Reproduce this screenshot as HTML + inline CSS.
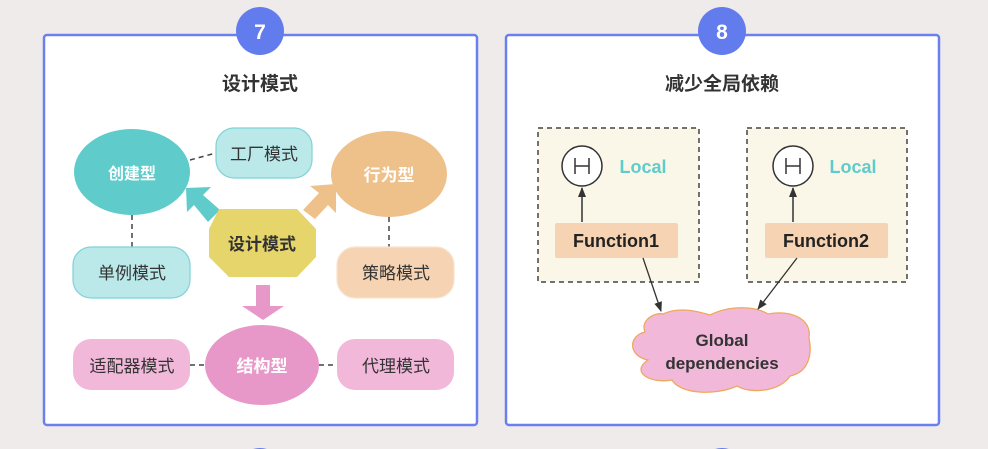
<!DOCTYPE html>
<html><head><meta charset="utf-8"><style>
html,body{margin:0;padding:0;width:988px;height:449px;overflow:hidden;background:#efebea;}
svg{display:block;font-family:"Liberation Sans","Noto Sans CJK SC",sans-serif;}
</style></head><body>
<svg width="988" height="449" viewBox="0 0 988 449">
<defs>
<marker id="ah" markerWidth="10" markerHeight="10" refX="9" refY="5" orient="auto" markerUnits="userSpaceOnUse"><path d="M0,1 L10,5 L0,9 z" fill="#333"/></marker>
</defs>
<rect x="0" y="0" width="988" height="449" fill="#efebea"/>
<!-- Left panel -->
<rect x="44" y="35" width="433" height="390" rx="3" fill="#fff" stroke="#6a7ff0" stroke-width="2.5"/>
<circle cx="260" cy="31" r="24" fill="#627ced"/>
<text x="260" y="39" text-anchor="middle" font-size="21" font-weight="bold" fill="#fff">7</text>
<text x="260" y="90" text-anchor="middle" font-size="19" font-weight="bold" fill="#333">设计模式</text>
<line x1="190" y1="160" x2="216" y2="153" stroke="#444" stroke-width="1.5" stroke-dasharray="5,4"/>
<line x1="132" y1="215" x2="132" y2="247" stroke="#444" stroke-width="1.5" stroke-dasharray="5,4"/>
<line x1="389" y1="217" x2="389" y2="247" stroke="#444" stroke-width="1.5" stroke-dasharray="5,4"/>
<line x1="190" y1="365" x2="205" y2="365" stroke="#444" stroke-width="1.5" stroke-dasharray="5,4"/>
<line x1="319" y1="365" x2="337" y2="365" stroke="#444" stroke-width="1.5" stroke-dasharray="5,4"/>
<ellipse cx="132" cy="172" rx="58" ry="43" fill="#60cbcb"/>
<text x="132" y="179" text-anchor="middle" font-size="16" font-weight="bold" fill="#fff">创建型</text>
<rect x="216" y="128" width="96" height="50" rx="18" fill="#bbe9e9" stroke="#7fd3d6" stroke-width="1.2"/>
<text x="264" y="160" text-anchor="middle" font-size="17" fill="#333">工厂模式</text>
<ellipse cx="389" cy="174" rx="58" ry="43" fill="#eec18b"/>
<text x="389" y="181" text-anchor="middle" font-size="17" font-weight="bold" fill="#fff">行为型</text>
<rect x="73" y="247" width="117" height="51" rx="18" fill="#bbe9e9" stroke="#7fd3d6" stroke-width="1.2"/>
<text x="132" y="279" text-anchor="middle" font-size="17" fill="#333">单例模式</text>
<rect x="337" y="247" width="117" height="51" rx="18" fill="#f6d4b3" stroke="#f7e3cf" stroke-width="1.2"/>
<text x="396" y="279" text-anchor="middle" font-size="17" fill="#333">策略模式</text>
<polygon points="220,210 208,222 194,205 187,212 186,188 211,187 203,195" fill="#60cbcb"/>
<polygon points="303,210 315,219 328,205 336,213 336,184 310,186 319,193" fill="#eec18b"/>
<polygon points="256,285 270,285 270,306 284,306 263,320 242,306 256,306" fill="#e898c8"/>
<polygon points="219,209 297,209 316,229 316,257 297,277 229,277 209,257 209,229" fill="#e6d56a"/>
<text x="262" y="250" text-anchor="middle" font-size="17" font-weight="bold" fill="#333">设计模式</text>
<ellipse cx="262" cy="365" rx="57" ry="40" fill="#e898c8"/>
<text x="262" y="372" text-anchor="middle" font-size="17" font-weight="bold" fill="#fff">结构型</text>
<rect x="73" y="339" width="117" height="51" rx="18" fill="#f1b8da"/>
<text x="132" y="372" text-anchor="middle" font-size="17" fill="#333">适配器模式</text>
<rect x="337" y="339" width="117" height="51" rx="18" fill="#f1b8da"/>
<text x="396" y="372" text-anchor="middle" font-size="17" fill="#333">代理模式</text>
<!-- Right panel -->
<rect x="506" y="35" width="433" height="390" rx="3" fill="#fff" stroke="#6a7ff0" stroke-width="2.5"/>
<circle cx="722" cy="31" r="24" fill="#627ced"/>
<text x="722" y="39" text-anchor="middle" font-size="21" font-weight="bold" fill="#fff">8</text>
<text x="722" y="90" text-anchor="middle" font-size="19" font-weight="bold" fill="#333">减少全局依赖</text>
<rect x="538" y="128" width="161" height="154" fill="#fbf7e8" stroke="#444" stroke-width="1.5" stroke-dasharray="5,4"/>
<rect x="747" y="128" width="160" height="154" fill="#fbf7e8" stroke="#444" stroke-width="1.5" stroke-dasharray="5,4"/>
<circle cx="582" cy="166" r="20" fill="#fff" stroke="#333" stroke-width="1.5"/>
<path d="M575,158 V174 M589,158 V174 M575,166 H589" stroke="#333" stroke-width="1.5" fill="none"/>
<circle cx="793" cy="166" r="20" fill="#fff" stroke="#333" stroke-width="1.5"/>
<path d="M786,158 V174 M800,158 V174 M786,166 H800" stroke="#333" stroke-width="1.5" fill="none"/>
<text x="643" y="173" text-anchor="middle" font-size="18" font-weight="bold" fill="#5ecccc">Local</text>
<text x="853" y="173" text-anchor="middle" font-size="18" font-weight="bold" fill="#5ecccc">Local</text>
<line x1="582" y1="222" x2="582" y2="188" stroke="#333" stroke-width="1.5" marker-end="url(#ah)"/>
<line x1="793" y1="222" x2="793" y2="188" stroke="#333" stroke-width="1.5" marker-end="url(#ah)"/>
<rect x="555" y="223" width="123" height="35" rx="2" fill="#f6d4b3"/>
<text x="616" y="247" text-anchor="middle" font-size="18" font-weight="bold" fill="#222">Function1</text>
<rect x="765" y="223" width="123" height="35" rx="2" fill="#f6d4b3"/>
<text x="826" y="247" text-anchor="middle" font-size="18" font-weight="bold" fill="#222">Function2</text>
<path d="M663,314 C680,306 700,312 710,315 C730,305 755,306 768,314 C790,310 812,318 809,338 C812,352 810,372 790,376 C780,392 750,394 737,386 C715,396 680,394 672,380 C650,384 630,372 648,360 C628,356 628,336 645,332 C640,320 655,312 663,314 z" fill="#f1b8da" stroke="#eea85e" stroke-width="1.3"/>
<text x="722" y="346" text-anchor="middle" font-size="17" font-weight="bold" fill="#333">Global</text>
<text x="722" y="369" text-anchor="middle" font-size="17" font-weight="bold" fill="#333">dependencies</text>
<line x1="643" y1="258" x2="661" y2="311" stroke="#333" stroke-width="1.3" marker-end="url(#ah)"/>
<line x1="797" y1="258" x2="758" y2="309" stroke="#333" stroke-width="1.3" marker-end="url(#ah)"/>
<circle cx="260" cy="472" r="24" fill="#627ced"/>
<circle cx="722" cy="472" r="24" fill="#627ced"/>
</svg>
</body></html>
